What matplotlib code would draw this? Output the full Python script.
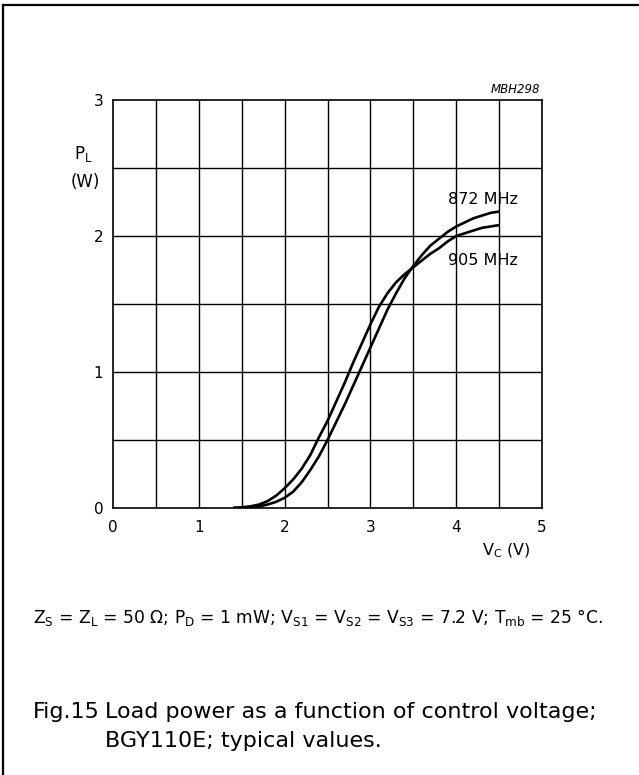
import matplotlib
matplotlib.use("Agg")
import matplotlib.pyplot as plt
from matplotlib.lines import Line2D

plt.rcParams["font.family"] = ["DejaVu Sans"]
plt.rcParams["mathtext.fontset"] = "dejavusans"

# Control voltage V_C (V)
vc = [1.4, 1.5, 1.6, 1.7, 1.8, 1.9, 2.0, 2.1, 2.2, 2.3, 2.4, 2.5, 2.6, 2.7, 2.8, 2.9,
      3.0, 3.1, 3.2, 3.3, 3.4, 3.5, 3.6, 3.7, 3.8, 3.9, 4.0, 4.1, 4.2, 4.3, 4.4, 4.5]
# Load power P_L (W) at 872 MHz
pl_872 = [0.0, 0.002, 0.006, 0.012, 0.025, 0.045, 0.075, 0.12, 0.19, 0.28, 0.38, 0.50,
          0.63, 0.76, 0.90, 1.04, 1.18, 1.32, 1.46, 1.58, 1.69, 1.78, 1.86, 1.93, 1.98,
          2.03, 2.07, 2.10, 2.13, 2.15, 2.17, 2.18]
# Load power P_L (W) at 905 MHz
pl_905 = [0.0, 0.005, 0.012, 0.025, 0.05, 0.09, 0.145, 0.21, 0.29, 0.39, 0.52, 0.64,
          0.78, 0.92, 1.07, 1.21, 1.35, 1.48, 1.58, 1.66, 1.72, 1.77, 1.82, 1.87, 1.91,
          1.96, 2.00, 2.02, 2.04, 2.06, 2.07, 2.08]

x_ticks = [0, 1, 2, 3, 4, 5]
y_ticks = [0, 1, 2, 3]

W, H = 639, 775
fig = plt.figure(figsize=(W / 100, H / 100), dpi=100)

# outer frame: left and top rules
fig.add_artist(Line2D([3 / W, 3 / W], [0, 1 - 5 / H], transform=fig.transFigure, color="black", lw=1.6))
fig.add_artist(Line2D([3 / W, 1], [1 - 5 / H, 1 - 5 / H], transform=fig.transFigure, color="black", lw=1.6))

ax = fig.add_axes([113 / W, 1 - 508 / H, (542 - 113) / W, (508 - 100) / H])
ax.set_xlim(0, 5)
ax.set_ylim(0, 3)

for v in [i * 0.5 for i in range(1, 10)]:
    ax.axvline(v, color="black", lw=1.0, zorder=1)
for p in [i * 0.5 for i in range(1, 6)]:
    ax.axhline(p, color="black", lw=1.0, zorder=1)
for s in ax.spines.values():
    s.set_linewidth(1.2)

ax.plot(vc, pl_872, color="black", lw=1.9, zorder=3, solid_capstyle="butt", solid_joinstyle="round")
ax.plot(vc, pl_905, color="black", lw=1.9, zorder=3, solid_capstyle="butt", solid_joinstyle="round")

ax.set_xticks(x_ticks)
ax.set_yticks(y_ticks)
ax.set_xticklabels([str(t) for t in x_ticks])
ax.set_yticklabels([str(t) for t in y_ticks])
ax.tick_params(length=0, labelsize=11)
ax.tick_params(axis="x", pad=9)
ax.tick_params(axis="y", pad=7)

ax.text(4.72, 2.27, "872 MHz", ha="right", va="center", fontsize=11.5)
ax.text(4.72, 1.82, "905 MHz", ha="right", va="center", fontsize=11.5)
ax.text(4.98, 3.03, "MBH298", ha="right", va="bottom", fontsize=8.5, style="italic")

fig.text(74 / W, 1 - 154 / H, r"$\mathregular{P_L}$", fontsize=12, ha="left", va="center")
fig.text(71 / W, 1 - 182 / H, "(W)", fontsize=12, ha="left", va="center")
fig.text(531 / W, 1 - 551 / H, r"$\mathregular{V_C}$ (V)", fontsize=11.5, ha="right", va="center")

fig.text(33 / W, 1 - 618 / H,
         r"$\mathregular{Z_S}$ = $\mathregular{Z_L}$ = 50 Ω; $\mathregular{P_D}$ = 1 mW; "
         r"$\mathregular{V_{S1}}$ = $\mathregular{V_{S2}}$ = $\mathregular{V_{S3}}$ = 7.2 V; "
         r"$\mathregular{T_{mb}}$ = 25 °C.",
         fontsize=12.3, ha="left", va="center")

fig.text(33 / W, 1 - 712 / H, "Fig.15", fontsize=16, ha="left", va="center")
fig.text(105 / W, 1 - 712 / H, "Load power as a function of control voltage;", fontsize=16, ha="left", va="center")
fig.text(105 / W, 1 - 741 / H, "BGY110E; typical values.", fontsize=16, ha="left", va="center")

fig.savefig("out.png", dpi=100, facecolor="white")
